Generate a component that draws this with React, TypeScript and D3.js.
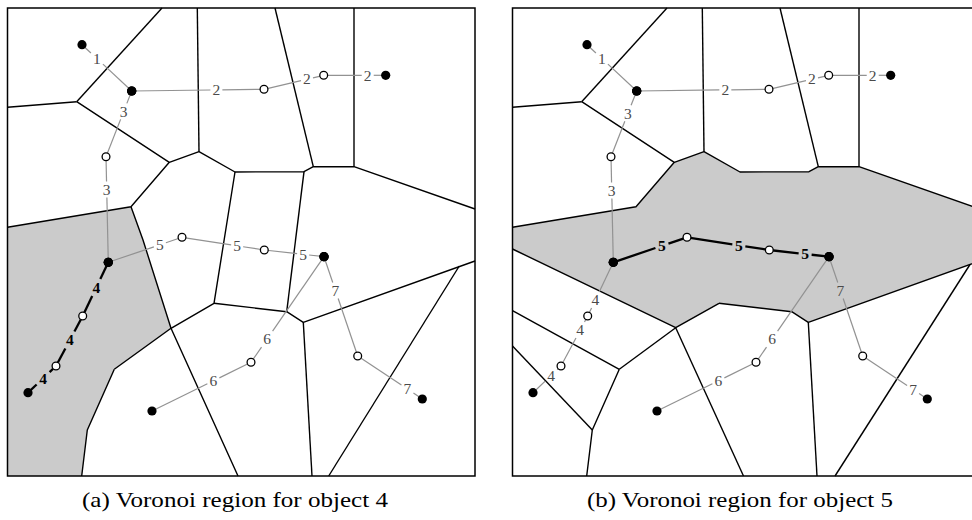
import React from "react";
import * as d3 from "d3";

type P = [number, number];

// panel units: pixel positions inside panel (a); panel (b) is the same frame shifted right
const panelOffsets = [0, 505];
const frame: P[] = [[7.5, 8], [475, 476]];
const captions = ["(a) Voronoi region for object 4", "(b) Voronoi region for object 5"];
const captionCenters = [235, 740];
const highlighted = [4, 5];

// trajectories of the 7 objects (vertices)
const objectIds = [1, 2, 3, 4, 5, 6, 7];
const trajectories: P[][] = [
  [[82, 44.7], [131.7, 91]],
  [[131.7, 91], [264, 89.3], [323.7, 75.3], [385.7, 75.3]],
  [[131.7, 91], [106, 156.7], [108.3, 262.3]],
  [[108.3, 262.3], [82.7, 316], [56, 366], [28, 392.7]],
  [[108.3, 262.3], [182, 237.3], [264.3, 250], [324, 256.7]],
  [[324, 256.7], [251, 362.3], [152, 411]],
  [[324, 256.7], [357.7, 356], [422.3, 399]],
];

// where each segment label sits along its segment (0..1), per panel
const labelPosA: number[][] = [
  [0.3], [0.64, 0.72, 0.71], [0.31, 0.31], [0.47, 0.48, 0.46],
  [0.7, 0.67, 0.65], [0.78, 0.38], [0.34, 0.77],
];
const labelPosB: number[][] = [
  [0.3], [0.67, 0.72, 0.71], [0.34, 0.32], [0.7, 0.28, 0.35],
  [0.66, 0.63, 0.6], [0.78, 0.38], [0.34, 0.78],
];

// Voronoi edges present in both panels
const sharedEdges: P[][] = [
  [[162, 8], [76.7, 101.7]],
  [[76.7, 101.7], [7.5, 107.3]],
  [[76.7, 101.7], [169.3, 162.3], [199, 151.7], [235, 172], [304, 171.7], [313.3, 166.7], [354, 166.7], [475, 209]],
  [[197.3, 8], [199, 151.7]],
  [[169.3, 162.3], [131, 206.7], [7.5, 227.3]],
  [[275, 8], [313.3, 166.7]],
  [[354, 8], [354, 166.7]],
  [[214, 303.3], [286.7, 311.7], [303.3, 322.3], [475, 261]],
  [[303.3, 322.3], [312, 476]],
  [[114.3, 369.3], [87.3, 430], [81.7, 476]],
];
const edgesA: P[][] = [
  [[131, 206.7], [143, 240], [171, 328.3], [238, 476]],
  [[304, 171.7], [286.7, 311.7]],
  [[235, 172], [214, 303.3], [171, 328.3], [114.3, 369.3]],
  [[459.3, 266], [328.7, 476]],
];
const edgesB: P[][] = [
  [[7.5, 249], [170.7, 327.7], [214, 303.3]],
  [[170.7, 327.7], [238.5, 476]],
  [[170.7, 327.7], [114.3, 369.3]],
  [[7.5, 310.7], [114.3, 369.3]],
  [[7.5, 346], [87.3, 430]],
  [[465, 264.5], [330, 476]],
];
const regionA: P[] = [
  [7.5, 227.3], [131, 206.7], [143, 240], [171, 328.3], [114.3, 369.3], [87.3, 430], [81.7, 476], [7.5, 476],
];
const regionB: P[] = [
  [7.5, 227.3], [131, 206.7], [169.3, 162.3], [199, 151.7], [235, 172], [304, 171.7], [313.3, 166.7],
  [354, 166.7], [475, 209], [475, 261], [303.3, 322.3], [286.7, 311.7], [214, 303.3], [170.7, 327.7], [7.5, 249],
];

const panels = [
  { edges: edgesA, region: regionA, labelPos: labelPosA },
  { edges: edgesB, region: regionB, labelPos: labelPosB },
];

const FONT = "Liberation Serif";

function Panel({ idx }: { idx: number }) {
  const p = panels[idx];
  const hi = highlighted[idx];
  const x = d3.scaleLinear().domain([0, 475]).range([panelOffsets[idx], panelOffsets[idx] + 475]);
  const y = d3.scaleLinear().domain([0, 520]).range([0, 520]);
  const line = d3.line<P>().x(d => x(d[0])).y(d => y(d[1]));

  const segs: React.ReactNode[] = [];
  const labels: React.ReactNode[] = [];
  trajectories.forEach((tr, oi) => {
    const id = objectIds[oi];
    const bold = id === hi;
    for (let s = 0; s < tr.length - 1; s++) {
      const a = tr[s], b = tr[s + 1];
      const t = p.labelPos[oi][s];
      const lx = a[0] + (b[0] - a[0]) * t, ly = a[1] + (b[1] - a[1]) * t;
      const len = Math.hypot(b[0] - a[0], b[1] - a[1]);
      const ux = (b[0] - a[0]) / len, uy = (b[1] - a[1]) / len;
      const hw = bold ? 6.5 : 6, hh = bold ? 8.5 : 8;
      const g = Math.min(Math.abs(ux) > 1e-6 ? hw / Math.abs(ux) : 1e9, Math.abs(uy) > 1e-6 ? hh / Math.abs(uy) : 1e9);
      const parts: P[][] = [
        [a, [lx - ux * g, ly - uy * g]],
        [[lx + ux * g, ly + uy * g], b],
      ];
      parts.forEach((pp, k) => {
        segs.push(
          <path key={`s${oi}-${s}-${k}`} d={line(pp) || ""} fill="none"
            stroke={bold ? "#000" : "#929292"} strokeWidth={bold ? 2.3 : 1.2} />
        );
      });
      labels.push(
        <text key={`l${oi}-${s}`} x={x(lx)} y={y(ly)} dy="0.34em" textAnchor="middle"
          fontFamily={FONT} fontSize={15.5} fontWeight={bold ? "bold" : "normal"}
          fill={bold ? "#000" : "#4a4a4a"}>{id}</text>
      );
    }
  });

  // endpoints are black, inner vertices are open
  const dots: React.ReactNode[] = [];
  trajectories.forEach((tr, oi) => {
    tr.forEach((pt, k) => {
      const end = k === 0 || k === tr.length - 1;
      dots.push(
        <circle key={`c${oi}-${k}`} cx={x(pt[0])} cy={y(pt[1])} r={end ? 4.6 : 3.9}
          fill={end ? "#000" : "#fff"} stroke="#000" strokeWidth={end ? 0 : 1.3} />
      );
    });
  });

  return (
    <g>
      <rect x={x(frame[0][0])} y={y(frame[0][1])} width={x(frame[1][0]) - x(frame[0][0])}
        height={y(frame[1][1]) - y(frame[0][1])} fill="#fff" />
      <path d={(line(p.region) || "") + "Z"} fill="#cbcbcb" stroke="none" />
      {[...sharedEdges, ...p.edges].map((e, i) => (
        <path key={`e${i}`} d={line(e) || ""} fill="none" stroke="#000" strokeWidth={1.4} strokeLinejoin="round" />
      ))}
      <rect x={x(frame[0][0])} y={y(frame[0][1])} width={x(frame[1][0]) - x(frame[0][0])}
        height={y(frame[1][1]) - y(frame[0][1])} fill="none" stroke="#000" strokeWidth={1.5} />
      {segs}
      {labels}
      {dots}
      <text x={captionCenters[idx]} y={507} textAnchor="middle" fontFamily={FONT} fontSize={21}
        textLength={306} lengthAdjust="spacingAndGlyphs" fill="#000">{captions[idx]}</text>
    </g>
  );
}

export default function App() {
  return (
    <svg width={972} height={520} style={{ position: "absolute", left: 0, top: 0, background: "#fff" }}>
      <rect width={972} height={520} fill="#fff" />
      <Panel idx={0} />
      <Panel idx={1} />
    </svg>
  );
}
